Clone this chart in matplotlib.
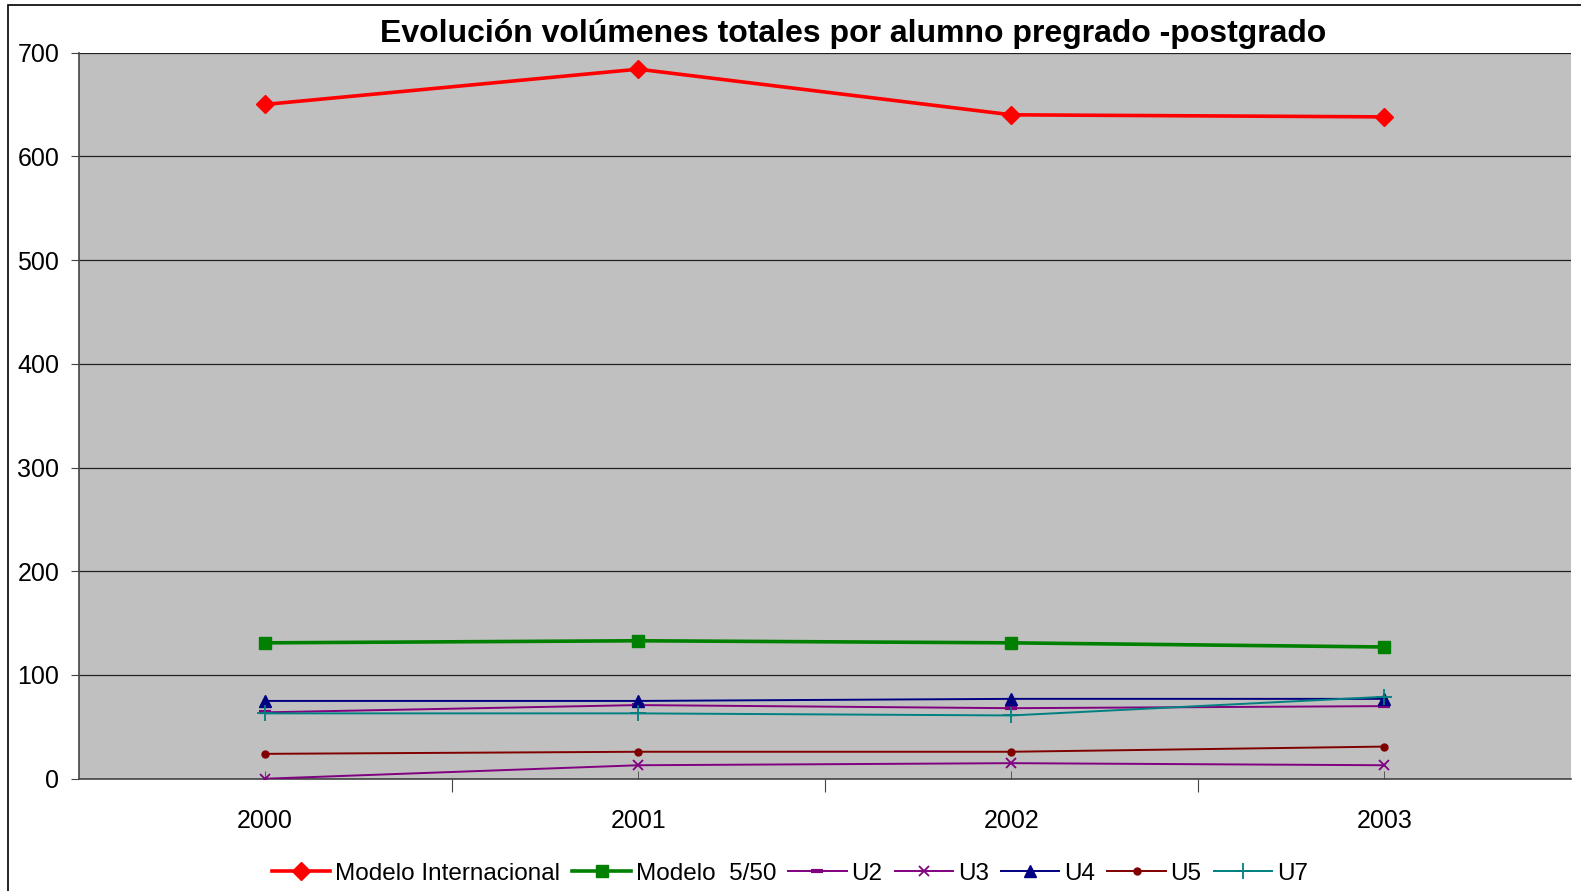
import numpy as np
import matplotlib.pyplot as plt
from matplotlib.patches import Rectangle

years = ["2000", "2001", "2002", "2003"]
modelo_int = [650, 684, 640, 638]
modelo_550 = [131, 133, 131, 127]
u2 = [64, 71, 68, 70]
u3 = [0, 13, 15, 13]
u4 = [75, 75, 77, 77]
u5 = [24, 26, 26, 31]
u7 = [63, 63, 61, 79]

plt.rcParams['font.family'] = ['Liberation Sans', 'DejaVu Sans']

fig = plt.figure(figsize=(15.81, 8.91), dpi=100)
ax = fig.add_axes([0.0497, 0.126, 0.9440, 0.815])
ax.set_facecolor('#C0C0C0')

x = np.arange(len(years))
ax.plot(x, modelo_int, color='#FF0000', lw=2.6, marker='D', ms=9, label='Modelo Internacional', zorder=5)
ax.plot(x, modelo_550, color='#008000', lw=2.6, marker='s', ms=8, label='Modelo  5/50', zorder=5)
ax.plot(x, u2, color='#800080', lw=1.4, marker='_', ms=8, mew=3, label='U2', zorder=4)
ax.plot(x, u3, color='#800080', lw=1.4, marker='x', ms=7, mew=1.3, label='U3', zorder=4)
ax.plot(x, u4, color='#000080', lw=1.4, marker='^', ms=8, label='U4', zorder=4)
ax.plot(x, u5, color='#800000', lw=1.4, marker='o', ms=5, label='U5', zorder=4)
ax.plot(x, u7, color='#008080', lw=1.4, marker='+', ms=12, mew=1.3, label='U7', zorder=4)

ax.set_xlim(-0.5, 3.5)
ax.set_ylim(0, 700)
ax.set_yticks(np.arange(0, 701, 100))
ax.yaxis.grid(True, color='#222222', lw=0.9)
ax.set_axisbelow(True)

ax.set_xticks([0.5, 1.5, 2.5])
ax.set_xticklabels([])
ax.set_xticks(x, minor=True)
ax.set_xticklabels(years, minor=True, fontsize=18)
ax.tick_params(axis='x', which='major', length=9, direction='out', color='#444444')
ax.tick_params(axis='x', which='minor', length=6, direction='in', color='#444444', pad=22)
ax.tick_params(axis='y', length=6, color='#444444', labelsize=18, pad=8)

for s in ['top', 'right']:
    ax.spines[s].set_visible(False)
ax.spines['left'].set_color('#444444')
ax.spines['bottom'].set_color('#444444')
ax.spines['left'].set_linewidth(1.2)
ax.spines['bottom'].set_linewidth(1.2)

fig.text(0.5396, 0.9615, 'Evolución volúmenes totales por alumno pregrado -postgrado',
         ha='center', va='center', fontsize=23, fontweight='bold')

fig.legend(loc='center', bbox_to_anchor=(0.4997, 0.0195), ncol=7, frameon=False,
           fontsize=17.5, handlelength=2.4, handletextpad=0.2, columnspacing=0.5)

fig.patches.append(Rectangle((8 / 1581, -0.1), 1.2, 1 - 5 / 891 + 0.1,
                             transform=fig.transFigure, fill=False,
                             edgecolor='black', lw=1.2))

fig.savefig('out.png', dpi=100)
